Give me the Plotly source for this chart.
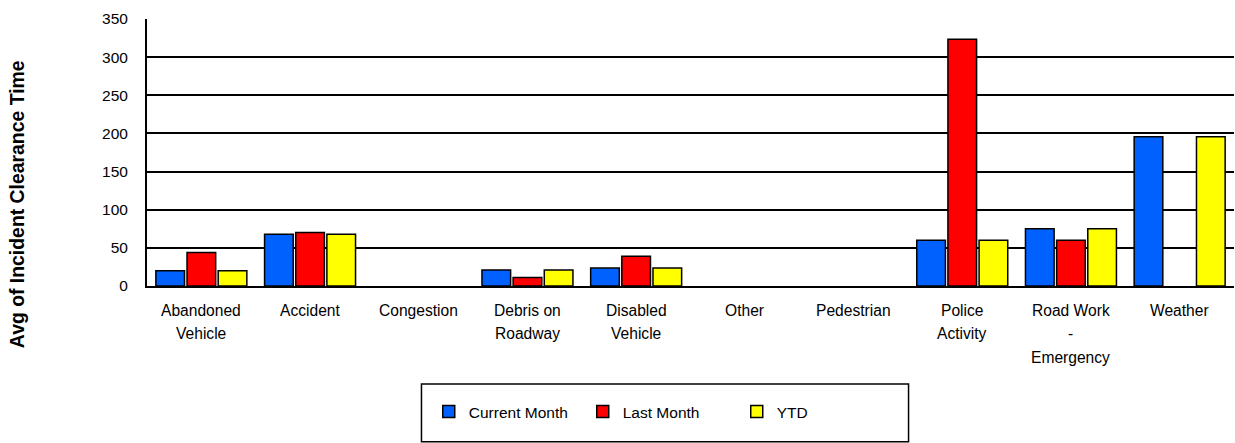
import plotly.graph_objects as go

# Incident clearance time by incident type
categories = [
    "Abandoned Vehicle", "Accident", "Congestion", "Debris on Roadway",
    "Disabled Vehicle", "Other", "Pedestrian", "Police Activity",
    "Road Work - Emergency", "Weather",
]
# Axis label lines for each category
category_lines = [
    ["Abandoned", "Vehicle"], ["Accident"], ["Congestion"], ["Debris on", "Roadway"],
    ["Disabled", "Vehicle"], ["Other"], ["Pedestrian"], ["Police", "Activity"],
    ["Road Work", "-", "Emergency"], ["Weather"],
]
current_month = [20, 68, None, 21, 23.5, None, None, 60, 75, 195.5]
last_month = [44, 70, None, 11, 39, None, None, 323.5, 60, None]
ytd = [20, 68, None, 21, 23.5, None, None, 60, 75, 195.5]

series = [
    ("Current Month", current_month, "#0061FF"),
    ("Last Month", last_month, "#FF0000"),
    ("YTD", ytd, "#FFFF00"),
]

FONT = "Liberation Sans, Arial, sans-serif"

fig = go.Figure()
for name, values, color in series:
    fig.add_trace(go.Bar(
        name=name, x=categories, y=values,
        marker=dict(color=color, line=dict(color="black", width=1.5)),
    ))

# Category labels, one annotation per line
label_offsets = [-24, -47, -71]
annotations = []
for cat, lines in zip(categories, category_lines):
    for i, line in enumerate(lines):
        annotations.append(dict(
            x=cat, xref="x", y=0, yref="paper", text=line, showarrow=False,
            yanchor="middle", xanchor="center", yshift=label_offsets[i],
            font=dict(family=FONT, size=15.6, color="black"),
        ))

annotations.append(dict(
    x=-0.1195, xref="paper", y=0.307, yref="paper",
    text="<b>Avg of Incident Clearance Time</b>", textangle=-90, showarrow=False,
    xanchor="center", yanchor="middle",
    font=dict(family=FONT, size=19.4, color="black"),
))

fig.update_layout(
    width=1235, height=443,
    margin=dict(l=147, r=1, t=19, b=157),
    paper_bgcolor="white", plot_bgcolor="white",
    barmode="group", bargap=0.14, bargroupgap=0.08,
    font=dict(family=FONT, size=15.5, color="black"),
    showlegend=True,
    legend=dict(
        orientation="h", x=0.2592, xanchor="left", y=-0.472, yanchor="middle",
        entrywidth=109, bgcolor="rgba(0,0,0,0)", borderwidth=0,
        font=dict(family=FONT, size=15.5, color="black"),
    ),
    annotations=annotations,
    shapes=[dict(
        type="rect", xref="paper", yref="paper",
        x0=0.2525, x1=0.7006, y0=-0.583, y1=-0.367,
        line=dict(color="black", width=1.5), fillcolor="rgba(0,0,0,0)",
    )],
)

fig.update_xaxes(
    showticklabels=False, ticks="", showgrid=False,
    showline=True, linecolor="black", linewidth=2,
)
fig.update_yaxes(
    range=[0, 350], dtick=50, showgrid=True, gridcolor="black", gridwidth=1.5,
    showline=True, linecolor="black", linewidth=2, zeroline=False,
    ticks="", ticklabelstandoff=14,
    tickfont=dict(family=FONT, size=15.5, color="black"),
)

fig.write_html("out.html")
